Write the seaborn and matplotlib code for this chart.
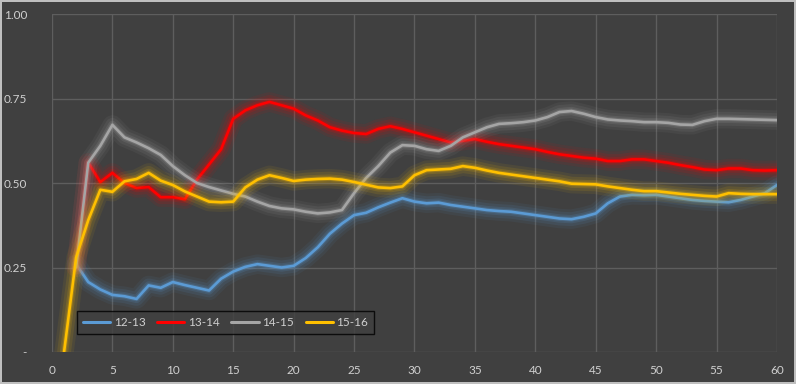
import numpy as np
import pandas as pd
import matplotlib
matplotlib.use("Agg")
import matplotlib.pyplot as plt
import matplotlib.patheffects as pe
import seaborn as sns

# data (x = 1..60, None = no value)
x_vals = list(range(1, 61))
seasons = ["12-13", "13-14", "14-15", "15-16"]

s12_13 = [None, 0.26, 0.207, 0.185, 0.169, 0.165, 0.157, 0.197, 0.19, 0.207,
          0.198, 0.19, 0.182, 0.217, 0.238, 0.252, 0.26, 0.255, 0.25, 0.255,
          0.278, 0.31, 0.35, 0.38, 0.405, 0.412, 0.428, 0.442, 0.455, 0.445,
          0.44, 0.442, 0.435, 0.43, 0.425, 0.42, 0.417, 0.415, 0.41, 0.405,
          0.4, 0.395, 0.393, 0.4, 0.41, 0.44, 0.46, 0.465, 0.464, 0.465,
          0.46, 0.455, 0.45, 0.447, 0.445, 0.443, 0.45, 0.46, 0.47, 0.494]
s13_14 = [None, 0.25, 0.56, 0.503, 0.53, 0.5, 0.485, 0.488, 0.458, 0.458,
          0.452, 0.51, 0.555, 0.6, 0.69, 0.715, 0.73, 0.74, 0.73, 0.72,
          0.7, 0.685, 0.665, 0.655, 0.648, 0.645, 0.66, 0.668, 0.66, 0.65,
          0.64, 0.63, 0.62, 0.625, 0.63, 0.622, 0.615, 0.61, 0.605, 0.6,
          0.592, 0.585, 0.58, 0.575, 0.572, 0.565, 0.565, 0.57, 0.57, 0.565,
          0.56, 0.553, 0.547, 0.54, 0.538, 0.543, 0.543, 0.538, 0.537, 0.538]
s14_15 = [None, 0.25, 0.56, 0.61, 0.672, 0.635, 0.62, 0.603, 0.583, 0.55,
          0.523, 0.5, 0.488, 0.478, 0.468, 0.46, 0.445, 0.432, 0.425, 0.422,
          0.415, 0.41, 0.413, 0.42, 0.47, 0.515, 0.55, 0.59, 0.612, 0.61,
          0.6, 0.595, 0.61, 0.635, 0.65, 0.665, 0.675, 0.677, 0.68, 0.685,
          0.695, 0.71, 0.713, 0.705, 0.695, 0.688, 0.685, 0.683, 0.68, 0.68,
          0.678, 0.673, 0.672, 0.683, 0.69, 0.69, 0.689, 0.688, 0.687, 0.686]
s15_16 = [0.0, 0.28, 0.39, 0.48, 0.474, 0.505, 0.512, 0.53, 0.507, 0.494,
          0.475, 0.46, 0.445, 0.443, 0.445, 0.487, 0.51, 0.523, 0.515, 0.506,
          0.51, 0.512, 0.513, 0.51, 0.503, 0.495, 0.487, 0.485, 0.49, 0.523,
          0.538, 0.54, 0.542, 0.55, 0.545, 0.537, 0.53, 0.525, 0.52, 0.515,
          0.51, 0.505, 0.498, 0.497, 0.496, 0.49, 0.485, 0.48, 0.476, 0.476,
          0.472, 0.468, 0.465, 0.462, 0.46, 0.47, 0.468, 0.467, 0.467, 0.467]

colors = ["#5b9bd5", "#ff0000", "#a5a5a5", "#ffc000"]
bg = "#404040"
txt = "#d0d0d0"

rows = []
for name, vals in zip(seasons, [s12_13, s13_14, s14_15, s15_16]):
    for xv, yv in zip(x_vals, vals):
        if yv is not None:
            rows.append({"x": xv, "value": yv, "season": name})
df = pd.DataFrame(rows)

sns.set_style("dark")
plt.rcParams["font.family"] = ["Lato", "DejaVu Sans"]

fig = plt.figure(figsize=(7.96, 3.84), dpi=100, facecolor=bg,
                 edgecolor="#bfbfbf", linewidth=1.5)
ax = fig.add_axes([0.0653, 0.0833, 0.9108, 0.8802])
ax.set_facecolor(bg)

sns.lineplot(data=df, x="x", y="value", hue="season", hue_order=seasons,
             palette=colors, linewidth=1.9, ax=ax, legend=False)

# soft glow around each line
for line, c in zip(ax.lines, colors):
    line.set_path_effects([
        pe.Stroke(linewidth=14, foreground=c, alpha=0.07),
        pe.Stroke(linewidth=10, foreground=c, alpha=0.1),
        pe.Stroke(linewidth=6, foreground=c, alpha=0.15),
        pe.Stroke(linewidth=3.5, foreground=c, alpha=0.25),
        pe.Normal(),
    ])

ax.set_xlim(0, 60)
ax.set_ylim(0, 1.0)
ax.set_xticks(range(0, 61, 5))
ax.set_yticks([0, 0.25, 0.5, 0.75, 1.0])
ax.set_yticklabels(["-", "0.25", "0.50", "0.75", "1.00"])
ax.set_xlabel("")
ax.set_ylabel("")
ax.grid(True, color="#5e5e5e", linewidth=1.0)
ax.set_axisbelow(True)
ax.tick_params(axis="both", length=0, colors=txt, labelsize=8.5)
ax.tick_params(axis="x", pad=9)
ax.tick_params(axis="y", pad=18)
for sp in ax.spines.values():
    sp.set_visible(False)

handles = [plt.Line2D([], [], color=c, linewidth=2.2) for c in colors]
leg = ax.legend(handles, seasons, ncol=4, loc="lower left",
                bbox_to_anchor=(0.0345, 0.053), borderaxespad=0,
                frameon=True, fancybox=False, facecolor=bg, edgecolor="black",
                fontsize=8.5, handlelength=2.3, handletextpad=0.3,
                columnspacing=1.0, borderpad=0.5)
leg.get_frame().set_linewidth(1.0)
for t in leg.get_texts():
    t.set_color(txt)

fig.savefig("out.png", dpi=100, facecolor=bg, edgecolor="#bfbfbf")
